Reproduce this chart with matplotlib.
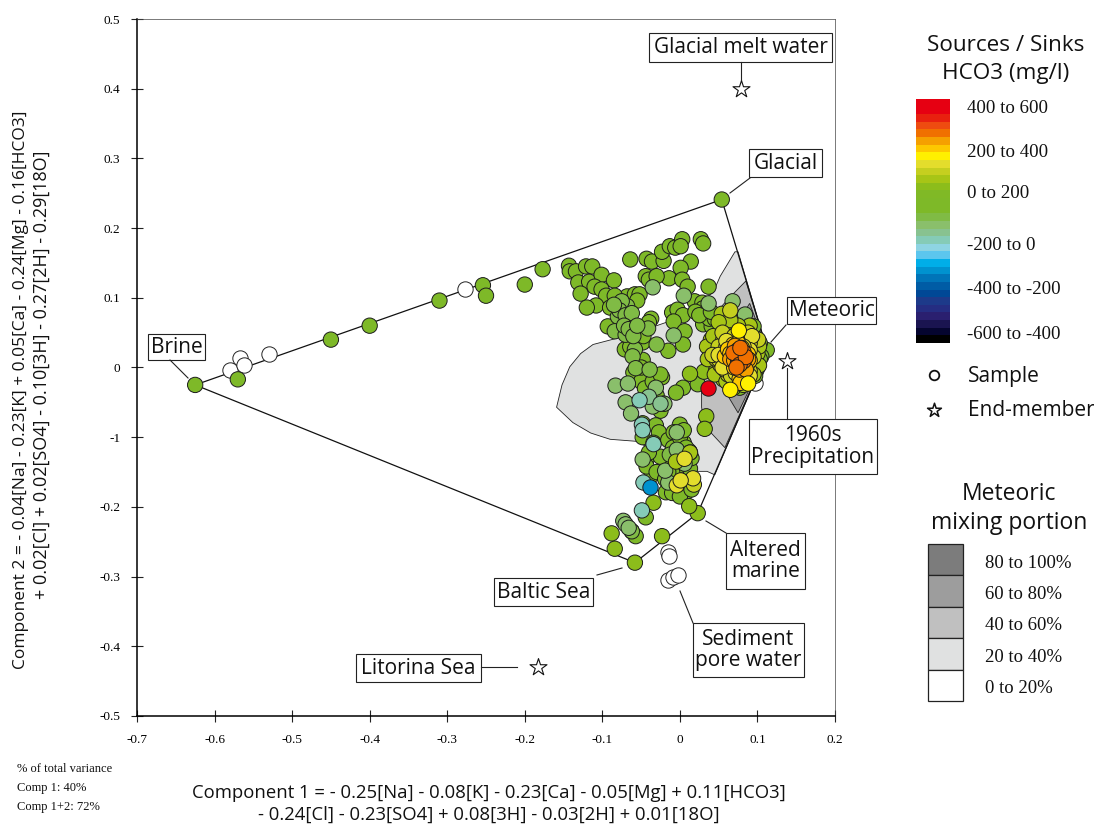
import matplotlib
matplotlib.use("Agg")
import matplotlib.pyplot as plt
from matplotlib.colors import ListedColormap, Normalize
from matplotlib.patches import Rectangle, Polygon

W, H = 1094, 824
SANS = "Open Sans"
SERIF = "Liberation Serif"

x_ticks = [-0.7, -0.6, -0.5, -0.4, -0.3, -0.2, -0.1, 0, 0.1, 0.2]
x_tick_labels = ["-0.7", "-0.6", "-0.5", "-0.4", "-0.3", "-0.2", "-0.1", "0", "0.1", "0.2"]
y_ticks = [0.5, 0.4, 0.3, 0.2, 0.1, 0, -0.1, -0.2, -0.3, -0.4, -0.5]
y_tick_labels = ["0.5", "0.4", "0.3", "0.2", "0.1", "0", "-1", "-0.2", "-0.3", "-0.4", "-0.5"]

mixing_outline = [(-0.625, -0.025), (0.054, 0.241), (0.113, 0.023), (0.023, -0.209), (-0.058, -0.28)]
portion_20 = [(0.075, 0.166), (0.071, 0.166), (0.052, 0.131), (0.043, 0.108), (0.026, 0.093), (-0.017, 0.065),
              (-0.064, 0.047), (-0.112, 0.033), (-0.128, 0.02), (-0.142, 0.001), (-0.152, -0.025), (-0.159, -0.057),
              (-0.138, -0.079), (-0.115, -0.094), (-0.09, -0.103),
              (-0.055, -0.106), (-0.026, -0.125), (0.0, -0.146), (0.022, -0.149), (0.035, -0.149), (0.045, -0.154),
              (0.113, 0.023)]
portion_40 = [(0.085, 0.124), (0.062, 0.098), (0.039, 0.069), (0.028, -0.024), (0.028, -0.057), (0.032, -0.084),
              (0.058, -0.115), (0.113, 0.023)]
portion_60 = [(0.090, 0.092), (0.077, 0.069), (0.064, 0.033), (0.061, -0.039), (0.075, -0.065), (0.113, 0.023)]
portion_80 = [(0.103, 0.042), (0.084, 0.0), (0.093, -0.024), (0.113, 0.023)]

white_x = [-0.277, -0.53, -0.567, -0.58, -0.562, -0.015, -0.014, -0.015, -0.009, -0.003, 0.097]
white_y = [0.112, 0.02, 0.014, -0.004, 0.004, -0.265, -0.27, -0.305, -0.30, -0.298, -0.022]

green_x = [0.054, -0.177, -0.2, -0.254, -0.25, -0.31, -0.40, -0.45, -0.625, -0.57,
           -0.143, -0.142, -0.134, -0.121, -0.113, -0.131, -0.117, -0.101, -0.085, -0.128,
           -0.110, -0.101, -0.095, -0.108, -0.12, -0.068, -0.058, -0.052, -0.084, -0.055,
           -0.09, -0.093, -0.037, -0.052, -0.048, -0.015, -0.071, -0.064, -0.048, -0.06,
           -0.023, 0.004, -0.005, -0.03, -0.021, -0.025, -0.048, -0.031, -0.027, -0.048,
           -0.034, -0.015, -0.0, -0.008, 0.005, -0.009, 0.012, -0.018, -0.043, -0.025,
           -0.064, -0.043, -0.036, -0.021, -0.023, -0.013, -0.006, 0.003, 0.001, 0.027,
           0.03, 0.014, 0.001, -0.014, 0.003, -0.044, -0.04, -0.03, 0.01, 0.037,
           0.019, 0.029, 0.037, -0.01, -0.003, 0.004, -0.008, 0.006, 0.004, 0.031,
           0.03, 0.023, -0.036, -0.043, -0.044,
           -0.03, -0.04, -0.062,
           -0.057, 0.008, -0.018, -0.019,
           0.112, 0.105, 0.103, 0.095, 0.047, 0.041, 0.041, 0.039, 0.043, 0.099,
           0.103, 0.08, 0.052, 0.077, 0.097, 0.06, 0.073,
           0.0, 0.005, 0.008, 0.013, 0.015, 0.0, -0.01, -0.015, -0.01, 0.0, 0.01, 0.015, -0.005,
           0.03, 0.038, 0.045, 0.02, 0.025, 0.04, -0.04, -0.047, -0.05, -0.045, -0.035, -0.05, -0.025]
green_y = [0.241, 0.141, 0.119, 0.118, 0.103, 0.096, 0.06, 0.04, -0.025, -0.017,
           0.146, 0.138, 0.138, 0.145, 0.145, 0.122, 0.123, 0.133, 0.125, 0.106,
           0.116, 0.112, 0.103, 0.089, 0.086, 0.102, 0.105, 0.105, 0.103, 0.096,
           0.086, 0.059, 0.07, 0.04, 0.036, 0.024, 0.026, 0.03, 0.011, -0.007,
           -0.014, -0.029, -0.036, -0.04, -0.052, -0.062, -0.08, -0.083, -0.093, -0.1,
           -0.108, -0.104, -0.082, -0.093, -0.108, -0.115, -0.12, -0.13, -0.132, -0.128,
           0.155, 0.156, 0.152, 0.153, 0.166, 0.174, 0.172, 0.184, 0.174, 0.184,
           0.178, 0.152, 0.143, 0.128, 0.126, 0.131, 0.126, 0.131, 0.116, 0.116,
           0.095, 0.093, 0.064, 0.079, 0.083, 0.075, 0.066, 0.052, 0.033, 0.072,
           0.062, -0.024, -0.154, -0.142, -0.215,
           -0.15, -0.122, -0.235,
           -0.242, -0.179, -0.179, -0.16,
           0.025, 0.016, 0.035, 0.059, 0.055, 0.059, 0.031, 0.016, 0.007, -0.003,
           0.012, 0.064, -0.01, -0.029, -0.012, 0.045, 0.064,
           -0.1, -0.09, -0.115, -0.145, -0.13, -0.14, -0.15, -0.15, -0.18, -0.185, -0.165, -0.175, -0.13,
           0.085, 0.07, 0.07, 0.08, 0.075, 0.08, 0.065, 0.045, -0.02, -0.03, -0.02, 0.0, -0.01]

brightgreen_x = [-0.058, 0.023, 0.012, -0.084, -0.088, -0.023, 0.034, 0.032, -0.034, 0.031, 0.013]
brightgreen_y = [-0.28, -0.209, -0.199, -0.26, -0.238, -0.242, -0.07, -0.088, -0.194, -0.006, -0.009]

midgreen_x = [-0.068, -0.08, -0.084, -0.07, -0.041, -0.03, -0.058, -0.061, -0.057, -0.039, -0.062, -0.013, 0.013,
              -0.075, -0.078, -0.085, -0.07, -0.062, -0.072, -0.066, -0.06, -0.055]
midgreen_y = [0.088, 0.073, 0.052, 0.047, 0.056, 0.033, 0.026, 0.016, -0.001, -0.003, -0.235, -0.125, -0.122,
              0.095, 0.082, 0.09, 0.075, 0.078, 0.06, 0.055, 0.045, 0.06]

seagreen_x = [0.005, -0.008, -0.083, -0.067, 0.037, 0.068, 0.084, -0.035, -0.031, -0.07, -0.063, -0.035, -0.004,
              -0.004, -0.015, -0.019, -0.073, -0.07, -0.066, -0.048, 0.006, -0.02]
seagreen_y = [0.103, 0.046, -0.026, -0.023, 0.092, 0.095, 0.076, 0.115, -0.029, -0.05, -0.066, -0.056, -0.093,
              -0.118, -0.165, -0.148, -0.22, -0.225, -0.23, -0.132, -0.138, -0.052]

paleteal_x = [-0.04, -0.025]
paleteal_y = [-0.042, -0.052]

teal_x = [-0.052, -0.049, -0.049, -0.034, -0.048, -0.047]
teal_y = [-0.047, -0.082, -0.205, -0.11, -0.09, -0.165]

blue_x = [-0.039]
blue_y = [-0.172]

lime_x = [0.054, 0.05, 0.045, 0.047, 0.056, 0.069, 0.095, 0.093, 0.082, 0.06, 0.039, 0.013, -0.005,
          0.04, 0.035, 0.036, 0.043, 0.045, 0.06, 0.07, 0.082, 0.1, 0.102, 0.095, 0.09, 0.075, 0.065, 0.05, 0.102]
lime_y = [0.077, 0.04, 0.024, -0.003, -0.017, -0.029, 0.007, 0.031, 0.05, 0.055, 0.02, -0.122, -0.135,
          0.04, 0.03, 0.012, 0.045, -0.01, -0.02, -0.02, -0.025, 0.02, 0.003, -0.01, 0.06, 0.06, 0.068, 0.065, 0.03]

olive_x = [0.065, 0.101, 0.056, 0.052, 0.052, 0.062, 0.085, 0.067, 0.047, 0.018,
           0.05, 0.055, 0.06, 0.05, 0.058, 0.066, 0.08, 0.09, 0.095, 0.09, 0.08, 0.07, 0.042, 0.088]
olive_y = [0.082, 0.04, 0.04, 0.024, 0.004, -0.01, 0.021, 0.038, 0.012, -0.168,
           0.03, 0.05, 0.03, 0.012, -0.003, -0.012, -0.01, -0.005, 0.015, 0.035, 0.04, 0.045, 0.018, 0.05]

paleyellow_x = [0.093, 0.058, 0.062, 0.017, 0.006, -0.004, 0.001, 0.05, 0.055, 0.06, 0.09, 0.082, 0.09, 0.072]
paleyellow_y = [0.045, 0.009, 0.024, -0.159, -0.131, -0.169, -0.162, 0.018, 0.0, 0.038, 0.025, 0.03, -0.012, -0.008]

yellow_x = [0.076, 0.065, 0.088]
yellow_y = [0.053, -0.032, -0.023]

gold_x = [0.069, 0.077, 0.058, 0.062, 0.086, 0.088, 0.075, 0.08, 0.065, 0.07, 0.082, 0.09, 0.078]
gold_y = [0.033, -0.016, 0.016, 0.026, 0.002, 0.019, 0.035, 0.028, 0.02, 0.0, -0.005, 0.01, -0.022]

amber_x = [0.071, 0.073, 0.077, 0.088, 0.065, 0.08, 0.07, 0.075, 0.085]
amber_y = [0.031, 0.007, -0.003, 0.012, 0.012, 0.015, 0.01, 0.025, -0.003]

orange_x = [0.082, 0.075, 0.073, 0.082, 0.069, 0.077, 0.085, 0.078, 0.073]
orange_y = [0.022, 0.009, 0.019, 0.009, 0.021, 0.004, 0.015, 0.028, 0.0]

red_x = [0.036]
red_y = [-0.03]

group_order = [
    (green_x, green_y, 100), (brightgreen_x, brightgreen_y, 169), (midgreen_x, midgreen_y, 19),
    (seagreen_x, seagreen_y, -19),
    (paleteal_x, paleteal_y, -56), (teal_x, teal_y, -94), (blue_x, blue_y, -244),
    (lime_x, lime_y, 206), (olive_x, olive_y, 244), (paleyellow_x, paleyellow_y, 281),
    (gold_x, gold_y, 356), (amber_x, amber_y, 394), (yellow_x, yellow_y, 319),
    (orange_x, orange_y, 431), (red_x, red_y, 581),
]

end_member_x = [0.079, 0.138, -0.183]
end_member_y = [0.4, 0.01, -0.43]

band_colors = ["#e60012", "#e60012", "#e8200f", "#ee4b10", "#f07000", "#f5a000", "#fdc800", "#fff000",
               "#e3dd2c", "#c5cf1f", "#a7c516", "#8cbd1b", "#80b926", "#7eb928", "#7eb928", "#80bb45",
               "#8abf6b", "#88c290", "#85cbb7", "#8ed4e3", "#5cc6ee", "#00aee8", "#0092cf", "#0074b8",
               "#005ca5", "#004896", "#1d3a8a", "#252d82", "#2a1f6f", "#1a1450", "#05052f", "#000000"]
hco3_labels = ["400 to 600", "200 to 400", "0 to 200", "-200 to 0", "-400 to -200", "-600 to -400"]
mixing_labels = ["80 to 100%", "60 to 80%", "40 to 60%", "20 to 40%", "0 to 20%"]
mixing_colors = ["#7c7c7c", "#9d9d9d", "#c0c0c0", "#e0e1e1", "#ffffff"]

fig = plt.figure(figsize=(W / 100, H / 100), dpi=100)
ax = fig.add_axes([137 / W, 1 - 716 / H, 698 / W, 697 / H])
ax.set_xlim(-0.7, 0.2)
ax.set_ylim(-0.5, 0.5)
ax.set_xticks(x_ticks, x_tick_labels, family=SERIF, fontsize=9.5)
ax.set_yticks(y_ticks, y_tick_labels, family=SERIF, fontsize=9.5)
ax.tick_params(direction="inout", length=8, width=0.8, color="#222222")
ax.tick_params(axis="x", pad=9)
ax.tick_params(axis="y", pad=8)
for side in ("top", "right"):
    ax.spines[side].set_linewidth(0.5)
    ax.spines[side].set_color("#444444")
for side in ("left", "bottom"):
    ax.spines[side].set_linewidth(1.1)

for verts, col in ((portion_20, mixing_colors[3]), (portion_40, mixing_colors[2]),
                   (portion_60, mixing_colors[1]), (portion_80, mixing_colors[0])):
    ax.add_patch(Polygon(verts, closed=True, fc=col, ec="#222222", lw=0.6, zorder=1))
ax.add_patch(Polygon(mixing_outline, closed=True, fc="none", ec="#111111", lw=0.9, zorder=2))

cmap = ListedColormap(band_colors[::-1])
norm = Normalize(-600, 600)
SIZE = 122
ax.scatter(white_x, white_y, s=SIZE, c="white", edgecolors="#222222", linewidths=0.7, zorder=3)
for i, (gx, gy, val) in enumerate(group_order):
    ax.scatter(gx, gy, s=SIZE, c=[val] * len(gx), cmap=cmap, norm=norm,
               edgecolors="#1c1c1c", linewidths=0.7, zorder=4 + i * 0.01, clip_on=False)
ax.scatter(end_member_x, end_member_y, marker="*", s=165, c="white",
           edgecolors="#111111", linewidths=0.8, zorder=6)

# overlay in image pixels for call-outs, legends and captions
ov = fig.add_axes([0, 0, 1, 1], facecolor="none", zorder=10)
ov.set_xlim(0, W)
ov.set_ylim(H, 0)
ov.axis("off")


def sans(x, y, s, size=14, ha="center", **kw):
    ov.text(x, y, s, family=SANS, fontsize=size, ha=ha, va="center", color="#111111", **kw)


def serif(x, y, s, size=14, ha="left"):
    ov.text(x, y, s, family=SERIF, fontsize=size, ha=ha, va="center", color="#111111")


callouts = [
    ("Glacial melt water", 649, 33, 832, 62, [(741, 62), (741, 80)]),
    ("Glacial", 749, 149, 822, 177, [(750, 178), (730, 193)]),
    ("Meteoric", 787, 297, 876, 324, [(786, 325), (771, 342)]),
    ("1960s\nPrecipitation", 749, 419, 877, 474, [(787, 368), (787, 419)]),
    ("Altered\nmarine", 726, 533, 805, 589, [(706, 521), (726, 533)]),
    ("Baltic Sea", 494, 578, 593, 606, [(597, 575), (622, 568)]),
    ("Sediment\npore water", 693, 623, 804, 677, [(680, 591), (693, 623)]),
    ("Litorina Sea", 356, 654, 481, 682, [(481, 667), (517, 667)]),
    ("Brine", 148, 334, 205, 360, [(170, 360), (188, 378)]),
]
for label, x0, y0, x1, y1, leader in callouts:
    ov.add_patch(Rectangle((x0, y0), x1 - x0, y1 - y0, fc="white", ec="#222222", lw=0.8))
    ov.plot(*zip(*leader), color="#222222", lw=0.8)
    ov.text((x0 + x1) / 2, (y0 + y1) / 2, label, family=SANS, fontsize=15, ha="center", va="center",
            color="#111111", linespacing=1.05)

sans(1006, 45, "Sources / Sinks", 16.2)
sans(1006, 73, "HCO3 (mg/l)", 16.2)
ov.imshow([[i] for i in range(len(band_colors))], cmap=ListedColormap(band_colors), aspect="auto",
          extent=(916, 950, 343, 99), interpolation="nearest")
ov.set_xlim(0, W)
ov.set_ylim(H, 0)
for label, y in zip(hco3_labels, [108, 152, 193, 245, 289, 334]):
    serif(967, y, label, 13.6)
ov.scatter([934], [375], s=48, c="white", edgecolors="#111111", linewidths=1.3)
ov.scatter([934], [410], marker="*", s=110, c="white", edgecolors="#111111", linewidths=1.1)
sans(968, 376, "Sample", 15, ha="left")
sans(968, 410, "End-member", 15, ha="left")

sans(1009, 494, "Meteoric", 16.5)
sans(1009, 523, "mixing portion", 16.5)
for i, (label, col) in enumerate(zip(mixing_labels, mixing_colors)):
    top = 544 + i * 31.4
    ov.add_patch(Rectangle((928, top), 35, 31.4, fc=col, ec="#222222", lw=0.9))
    serif(985, top + 19, label, 13.5)

sans(489, 793, "Component 1 = - 0.25[Na] - 0.08[K] - 0.23[Ca] - 0.05[Mg] + 0.11[HCO3]", 13.3)
sans(489, 815, "- 0.24[Cl] - 0.23[SO4] + 0.08[3H] - 0.03[2H] + 0.01[18O]", 13.3)
sans(21, 390, "Component 2 = - 0.04[Na] - 0.23[K] + 0.05[Ca] - 0.24[Mg] - 0.16[HCO3]", 12.5, rotation=90)
sans(42, 375, "+ 0.02[Cl] + 0.02[SO4] - 0.10[3H] - 0.27[2H] - 0.29[18O]", 13, rotation=90)

serif(17, 769, "% of total variance", 9)
serif(17, 788, "Comp 1: 40%", 9)
serif(17, 807, "Comp 1+2: 72%", 9)

fig.savefig("out.png", dpi=100)
